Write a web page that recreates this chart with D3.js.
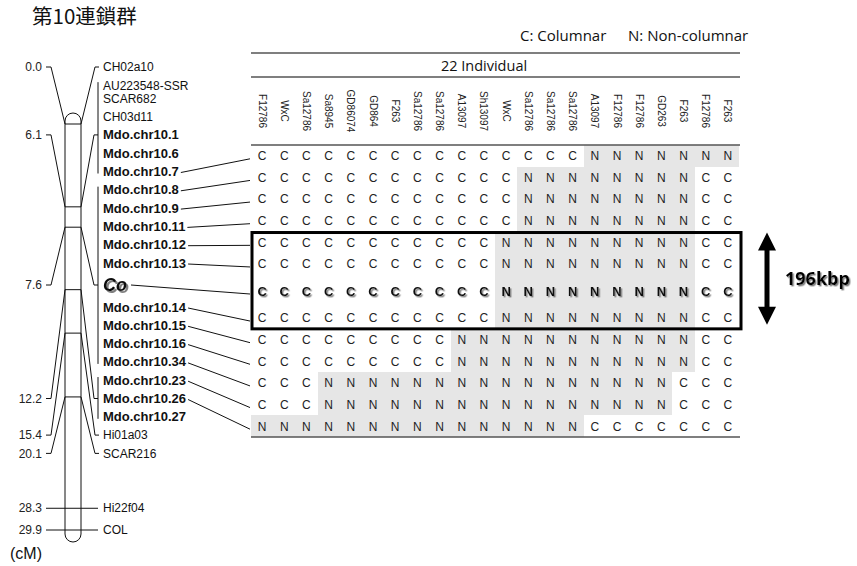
<!DOCTYPE html>
<html>
<head>
<meta charset="utf-8">
<script src="https://cdn.jsdelivr.net/npm/d3@7"></script>
<style>
  body { margin: 0; background: #fff; }
  svg { display: block; }
</style>
</head>
<body>
<svg id="chart" width="857" height="566"></svg>
<script>
// ---- data -------------------------------------------------------------
const title = "第10連鎖群";
const legendItems = ["C: Columnar", "N: Non-columnar"];
const populationLabel = "22 Individual";
const unitLabel = "(cM)";

// linkage-map markers (top to bottom) and their map positions in cM
const markers = ["CH02a10", "AU223548-SSR\nSCAR682", "CH03d11", "Mdo.chr10.1", "Mdo.chr10.6",
  "Mdo.chr10.7", "Mdo.chr10.8", "Mdo.chr10.9", "Mdo.chr10.11", "Mdo.chr10.12", "Mdo.chr10.13",
  "Co", "Mdo.chr10.14", "Mdo.chr10.15", "Mdo.chr10.16", "Mdo.chr10.34", "Mdo.chr10.23",
  "Mdo.chr10.26", "Mdo.chr10.27", "Hi01a03", "SCAR216", "Hi22f04", "COL"];
const markerCM = [0.0, 6.1, 6.1, 6.1, 6.1, 6.1, 7.6, 7.6, 7.6, 7.6, 7.6, 7.6, 7.6, 7.6, 7.6, 7.6,
  12.2, 12.2, 12.2, 15.4, 20.1, 28.3, 29.9];
// marker through which each co-located cluster is linked to the map
const groupAnchors = ["Mdo.chr10.1", "Co", "Mdo.chr10.26"];

// individuals (columns) and genotype per marker (rows)
const individuals = ["F12786", "WxC", "Sa12786", "Sa8945", "GD86074", "GD864", "F263", "Sa12786",
  "Sa12786", "A13097", "Sh13097", "WxC", "Sa12786", "Sa12786", "Sa12786", "A13097", "F12786",
  "F12786", "GD263", "F263", "F12786", "F263"];
const genotypeMarkers = ["Mdo.chr10.7", "Mdo.chr10.8", "Mdo.chr10.9", "Mdo.chr10.11", "Mdo.chr10.12",
  "Mdo.chr10.13", "Co", "Mdo.chr10.14", "Mdo.chr10.15", "Mdo.chr10.16", "Mdo.chr10.34",
  "Mdo.chr10.23", "Mdo.chr10.26"];
const genotypes = [
  "CCCCCCCCCCCCCCCNNNNNNN",
  "CCCCCCCCCCCCNNNNNNNNCC",
  "CCCCCCCCCCCCNNNNNNNNCC",
  "CCCCCCCCCCCCNNNNNNNNCC",
  "CCCCCCCCCCCNNNNNNNNNCC",
  "CCCCCCCCCCCNNNNNNNNNCC",
  "CCCCCCCCCCCNNNNNNNNNCC",
  "CCCCCCCCCCCNNNNNNNNNCC",
  "CCCCCCCCCNNNNNNNNNNNCC",
  "CCCCCCCCCNNNNNNNNNNNCC",
  "CCCNNNNNNNNNNNNNNNNCCC",
  "CCCNNNNNNNNNNNNNNNNCCC",
  "NNNNNNNNNNNNNNNCCCCCCC"
];
// candidate region (first and last marker) and its physical size
const regionMarkers = ["Mdo.chr10.12", "Mdo.chr10.14"];
const regionLabel = "196kbp";

// ---- setup ------------------------------------------------------------
const svg = d3.select("#chart");
const SANS = "'Liberation Sans', Arial, sans-serif";
const UI = "'Open Sans', 'Noto Sans', sans-serif";

// grey drop shadows for highlighted text
const defs = svg.append("defs");
[["shadow-lg", 2, 2], ["shadow-sm", 1.4, 1.4]].forEach(([id, dx, dy]) => {
  defs.append("filter").attr("id", id)
    .attr("x", "-20%").attr("y", "-20%").attr("width", "160%").attr("height", "160%")
    .append("feDropShadow").attr("dx", dx).attr("dy", dy).attr("stdDeviation", 0.4)
    .attr("flood-color", "#808080").attr("flood-opacity", 1);
});

svg.append("text").attr("x", 32).attr("y", 24)
  .attr("font-family", "'Noto Sans CJK JP', sans-serif").attr("font-size", 20.5)
  .attr("fill", "#111").text(title);

// ---- linkage map -------------------------------------------------------
const chrX0 = 65, chrX1 = 81;
const mapY = d3.scaleLinear().domain([0, d3.max(markerCM)]).range([124, 530]);

// marker label layout: a stacked list beside the map; markers far below
// the list sit level with their own map position
const freeFromCM = 25;
const step = 18.3, lineGap = 13;
const labels = markers.map((m, i) => {
  const lines = m.split("\n");
  const half = step / 2 + (lines.length - 1) * lineGap / 2 + (m === "Co" ? 3.7 : 0);
  return { name: m, lines, cM: markerCM[i], half };
});
let cursor = null;
labels.forEach(l => {
  if (l.cM >= freeFromCM) { l.y = mapY(l.cM); l.free = true; return; }
  l.y = cursor === null ? 67 : cursor + l.half;
  cursor = l.y + l.half;
});

const cmValues = Array.from(new Set(markerCM));
const groups = cmValues.map(cm => {
  const members = labels.filter(l => l.cM === cm);
  const anchor = members.length > 1 ? members.find(l => groupAnchors.includes(l.name)) : members[0];
  return { cM: cm, members, anchor, free: members[0].free };
});

const mapG = svg.append("g");

// chromosome body
mapG.append("rect")
  .attr("x", chrX0).attr("y", mapY(0) - 11)
  .attr("width", chrX1 - chrX0).attr("height", mapY(d3.max(markerCM)) - mapY(0) + 23)
  .attr("rx", 8).attr("ry", 8)
  .attr("fill", "#fff").attr("stroke", "#111").attr("stroke-width", 1);

const line = (pts, w = 1) => mapG.append("path")
  .attr("d", d3.line()(pts)).attr("fill", "none")
  .attr("stroke", "#111").attr("stroke-width", w);

const bracketX = 98;
groups.forEach(g => {
  const yM = mapY(g.cM);
  const aY = g.anchor.y;
  const cmText = d3.format(".1f")(g.cM);
  if (g.free) {
    line([[46, yM], [bracketX, yM]]);
  } else {
    line([[chrX0, yM], [chrX1, yM]]);
    line([[46, aY], [51, aY], [chrX0, yM]]);
    if (g.members.length > 1) {
      line([[chrX1, yM], [94, aY], [bracketX, aY]]);
      const first = g.members[0], last = g.members[g.members.length - 1];
      line([[bracketX, first.y - first.half + 6], [bracketX, last.y + 2]]);
    } else {
      line([[chrX1, yM], [95, aY], [99, aY]]);
    }
  }
  mapG.append("text").attr("x", 42).attr("y", aY).attr("dy", "0.35em")
    .attr("text-anchor", "end").attr("font-family", SANS).attr("font-size", 12)
    .attr("fill", "#222").text(cmText);
});

// marker names
const labelX = 103;
labels.forEach(l => {
  const bold = l.name.startsWith("Mdo.");
  if (l.name === "Co") {
    const t = mapG.append("text").attr("x", labelX).attr("y", l.y).attr("dy", "0.35em")
      .attr("font-family", SANS).attr("font-size", 18).attr("font-weight", "bold")
      .attr("font-style", "italic").attr("fill", "#111")
      .attr("filter", "url(#shadow-lg)").text(l.name);
    l.width = t.node().getComputedTextLength() + 2;
    return;
  }
  const t = mapG.append("text").attr("x", labelX).attr("font-family", SANS)
    .attr("font-size", bold ? 13 : 12).attr("font-weight", bold ? "bold" : "normal")
    .attr("fill", "#111");
  l.lines.forEach((s, k) => {
    t.append("tspan").attr("x", labelX)
      .attr("y", l.y + (k - (l.lines.length - 1) / 2) * lineGap).attr("dy", "0.35em").text(s);
  });
  l.width = t.node().getComputedTextLength();
});

svg.append("text").attr("x", 10).attr("y", 559)
  .attr("font-family", SANS).attr("font-size", 16).attr("fill", "#111").text(unitLabel);

// ---- genotype table ----------------------------------------------------
const gridLeft = 251, gridRight = 739, gridTop = 145, gridBottom = 437;
const colX = d3.scaleBand().domain(d3.range(individuals.length)).range([gridLeft, gridRight]);
const rowWeight = genotypeMarkers.map(m => (m === "Co" ? 1.5 : 1));
const rowStart = d3.cumsum([0, ...rowWeight]);
const rowY = d3.scaleLinear().domain([0, d3.sum(rowWeight)]).range([gridTop, gridBottom]);
const rows = genotypeMarkers.map((m, i) => ({
  marker: m,
  top: rowY(rowStart[i]),
  bottom: rowY(rowStart[i + 1]),
  cells: genotypes[i].split("")
}));
rows.forEach(r => { r.mid = (r.top + r.bottom) / 2; });

const gridG = svg.append("g");

// shaded non-columnar cells
rows.forEach(r => {
  gridG.selectAll(null).data(r.cells.map((v, j) => ({ v, j })).filter(d => d.v === "N"))
    .enter().append("rect")
    .attr("x", d => colX(d.j)).attr("y", r.top)
    .attr("width", colX.bandwidth()).attr("height", r.bottom - r.top)
    .attr("fill", "#e6e6e6").attr("shape-rendering", "crispEdges");
});

// genotype letters
rows.forEach(r => {
  const hl = r.marker === "Co";
  gridG.selectAll(null).data(r.cells).enter().append("text")
    .attr("x", (d, j) => colX(j) + colX.bandwidth() / 2)
    .attr("y", r.mid).attr("dy", "0.36em")
    .attr("text-anchor", "middle").attr("font-family", SANS)
    .attr("font-size", hl ? 13 : 12).attr("font-weight", hl ? "bold" : "normal")
    .attr("fill", hl ? "#111" : "#222")
    .attr("filter", hl ? "url(#shadow-sm)" : null)
    .text(d => d);
});

// connectors from marker names to their rows
rows.forEach(r => {
  const l = labels.find(d => d.name === r.marker);
  gridG.append("line")
    .attr("x1", labelX + l.width + 2).attr("y1", l.y + (r.marker === "Co" ? 0 : 1))
    .attr("x2", gridLeft - 1).attr("y2", r.mid + 3)
    .attr("stroke", "#111").attr("stroke-width", 1);
});

// header
const headG = svg.append("g");
[53, 77, gridTop, gridBottom].forEach(y => {
  headG.append("line").attr("x1", gridLeft).attr("x2", gridRight + 1)
    .attr("y1", y).attr("y2", y).attr("stroke", "#555").attr("stroke-width", 1.6);
});
headG.append("text").attr("x", 484).attr("y", 66).attr("dy", "0.35em")
  .attr("text-anchor", "middle").attr("font-family", UI).attr("font-size", 14.5)
  .attr("fill", "#111").text(populationLabel);
headG.selectAll(null).data(individuals).enter().append("text")
  .attr("transform", (d, j) => `translate(${colX(j) + colX.bandwidth() / 2},111) rotate(90)`)
  .attr("text-anchor", "middle").attr("dy", "0.35em")
  .attr("font-family", SANS).attr("font-size", 10).attr("fill", "#222").text(d => d);

headG.selectAll(null).data(legendItems).enter().append("text")
  .attr("x", (d, i) => [520, 628][i]).attr("y", 41)
  .attr("font-family", UI).attr("font-size", 15).attr("fill", "#111").text(d => d);

// candidate region box and size arrow
const r0 = rows.find(r => r.marker === regionMarkers[0]);
const r1 = rows.find(r => r.marker === regionMarkers[1]);
gridG.append("rect")
  .attr("x", gridLeft + 1).attr("y", r0.top + 1)
  .attr("width", gridRight - gridLeft + 1).attr("height", r1.bottom - r0.top - 1)
  .attr("fill", "none").attr("stroke", "#000").attr("stroke-width", 3);

const ax = 767, ay0 = r0.top + 1, ay1 = r1.bottom - 4, head = 18, hw = 9;
const arrowG = svg.append("g").attr("fill", "#000");
arrowG.append("rect").attr("x", ax - 2.5).attr("y", ay0 + head - 2)
  .attr("width", 5).attr("height", ay1 - ay0 - 2 * head + 4);
arrowG.append("path").attr("d", `M${ax},${ay0}L${ax + hw},${ay0 + head}L${ax - hw},${ay0 + head}Z`);
arrowG.append("path").attr("d", `M${ax},${ay1}L${ax + hw},${ay1 - head}L${ax - hw},${ay1 - head}Z`);

svg.append("text").attr("x", 785).attr("y", (ay0 + ay1) / 2).attr("dy", "0.35em")
  .attr("font-family", UI).attr("font-size", 18).attr("font-weight", "bold")
  .attr("fill", "#000").attr("filter", "url(#shadow-sm)").text(regionLabel);
</script>
</body>
</html>
